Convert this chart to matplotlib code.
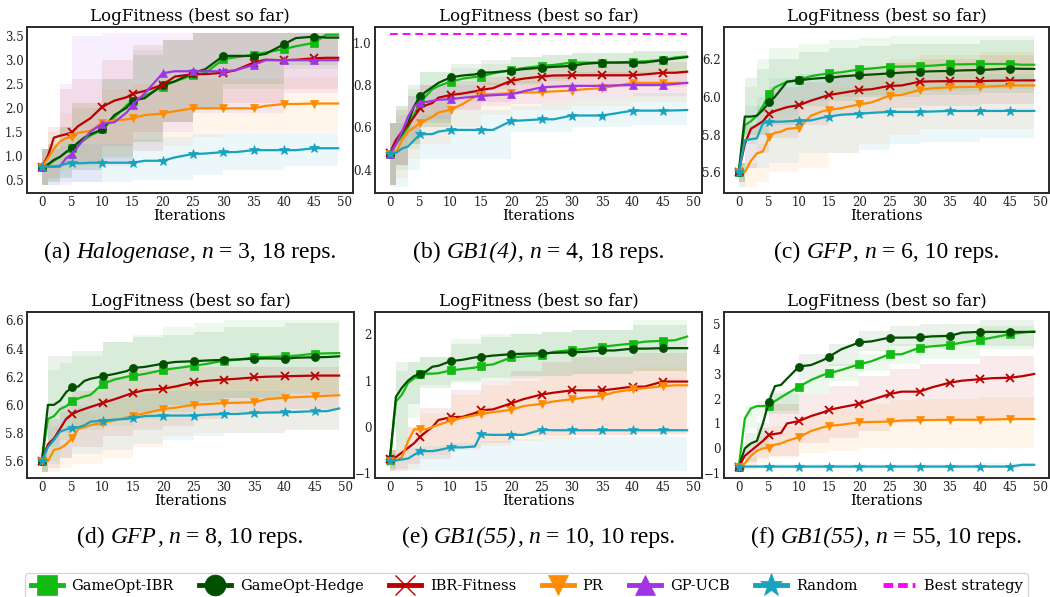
import numpy as np
import matplotlib
matplotlib.use("Agg")
import matplotlib.pyplot as plt
from matplotlib.lines import Line2D

plt.rcParams['font.family'] = ['DejaVu Serif']
plt.rcParams['mathtext.fontset'] = 'stix'

# ---------------- data ----------------
methods = ["GameOpt-IBR", "GameOpt-Hedge", "IBR-Fitness", "PR", "GP-UCB", "Random"]
best_label = "Best strategy"

# iteration grid for mean curves
X = [0, 1, 2, 3, 4, 5, 6, 7, 8, 10, 12, 14, 15, 17, 20, 22, 25, 27, 30, 32, 35, 37, 40, 42, 45, 47, 49]
# iteration grid for confidence bands
B = [0, 1, 3, 5, 10, 15, 20, 25, 30, 40, 49]

# Panel (a) Halogenase
a_ibr = [0.78, 0.82, 0.90, 0.98, 1.08, 1.17, 1.25, 1.33, 1.42, 1.55, 1.80, 2.05, 2.15, 2.25, 2.44, 2.55, 2.68, 2.72, 3.01, 3.05, 3.10, 3.15, 3.22, 3.28, 3.35, 3.52, 3.52]
a_hedge = [0.78, 0.82, 0.92, 0.98, 1.08, 1.17, 1.28, 1.38, 1.45, 1.55, 1.85, 2.00, 2.15, 2.20, 2.48, 2.55, 2.73, 2.80, 3.08, 3.08, 3.08, 3.12, 3.32, 3.45, 3.48, 3.46, 3.46]
a_ibrf = [0.78, 1.00, 1.38, 1.42, 1.45, 1.49, 1.62, 1.70, 1.78, 2.02, 2.15, 2.22, 2.29, 2.35, 2.48, 2.65, 2.70, 2.70, 2.73, 2.78, 2.94, 3.00, 2.99, 3.00, 3.03, 3.04, 3.04]
a_pr = [0.78, 0.95, 1.15, 1.30, 1.37, 1.40, 1.48, 1.50, 1.52, 1.69, 1.74, 1.76, 1.78, 1.85, 1.88, 1.93, 1.99, 1.99, 1.99, 1.99, 1.99, 2.04, 2.08, 2.08, 2.09, 2.09, 2.09]
a_gp = [0.78, 0.78, 0.78, 0.78, 0.95, 1.04, 1.20, 1.35, 1.50, 1.67, 1.70, 1.90, 2.06, 2.30, 2.72, 2.76, 2.76, 2.76, 2.76, 2.78, 2.89, 2.99, 2.99, 2.99, 2.99, 2.99, 2.99]
a_rand = [0.78, 0.78, 0.78, 0.80, 0.84, 0.85, 0.85, 0.85, 0.86, 0.86, 0.86, 0.86, 0.86, 0.90, 0.90, 0.97, 1.04, 1.05, 1.08, 1.08, 1.12, 1.12, 1.12, 1.12, 1.16, 1.16, 1.16]
a_lo = [[0.40, 0.45, 0.55, 0.70, 0.95, 1.30, 1.70, 2.00, 2.40, 2.80, 3.10],
        [0.40, 0.45, 0.55, 0.70, 0.90, 1.30, 1.70, 2.00, 2.50, 2.90, 3.10],
        [0.40, 0.55, 0.80, 0.85, 1.20, 1.50, 1.70, 2.00, 2.10, 2.40, 2.45],
        [0.40, 0.50, 0.70, 0.80, 1.00, 1.10, 1.20, 1.40, 1.45, 1.45, 1.55],
        [0.40, 0.40, 0.40, 0.45, 0.80, 1.10, 1.50, 1.90, 1.90, 2.30, 2.30],
        [0.40, 0.40, 0.45, 0.45, 0.45, 0.50, 0.50, 0.60, 0.70, 0.80, 0.85]]
a_hi = [[1.15, 1.25, 1.60, 2.00, 2.60, 3.20, 3.40, 3.55, 3.55, 3.55, 3.55],
        [1.15, 1.25, 1.60, 2.10, 2.60, 3.10, 3.40, 3.55, 3.55, 3.55, 3.55],
        [1.15, 1.60, 2.40, 2.60, 3.00, 3.30, 3.40, 3.55, 3.55, 3.55, 3.55],
        [1.15, 1.50, 1.90, 2.10, 2.40, 2.50, 2.60, 2.60, 2.60, 2.65, 2.65],
        [1.15, 1.15, 2.50, 3.50, 3.55, 3.55, 3.55, 3.55, 3.55, 3.55, 3.55],
        [1.15, 1.15, 1.20, 1.25, 1.25, 1.35, 1.40, 1.45, 1.45, 1.45, 1.45]]

# Panel (b) GB1(4)
b_ibr = [0.475, 0.52, 0.56, 0.60, 0.66, 0.72, 0.75, 0.78, 0.795, 0.816, 0.83, 0.838, 0.84, 0.855, 0.871, 0.88, 0.89, 0.895, 0.906, 0.906, 0.906, 0.906, 0.91, 0.912, 0.918, 0.93, 0.935]
b_hedge = [0.475, 0.53, 0.57, 0.62, 0.70, 0.748, 0.77, 0.79, 0.81, 0.836, 0.845, 0.85, 0.858, 0.86, 0.868, 0.875, 0.882, 0.886, 0.89, 0.90, 0.906, 0.906, 0.906, 0.906, 0.918, 0.925, 0.932]
b_ibrf = [0.48, 0.54, 0.58, 0.61, 0.65, 0.69, 0.705, 0.715, 0.74, 0.753, 0.76, 0.77, 0.777, 0.785, 0.82, 0.83, 0.84, 0.845, 0.846, 0.846, 0.846, 0.846, 0.846, 0.85, 0.858, 0.858, 0.863]
b_pr = [0.475, 0.48, 0.54, 0.58, 0.60, 0.62, 0.635, 0.65, 0.67, 0.683, 0.71, 0.745, 0.753, 0.757, 0.761, 0.764, 0.766, 0.77, 0.774, 0.78, 0.785, 0.795, 0.81, 0.81, 0.81, 0.81, 0.81]
b_gp = [0.475, 0.52, 0.58, 0.65, 0.70, 0.717, 0.72, 0.725, 0.73, 0.733, 0.74, 0.745, 0.748, 0.752, 0.756, 0.77, 0.789, 0.792, 0.796, 0.796, 0.796, 0.798, 0.80, 0.80, 0.80, 0.805, 0.81]
b_rand = [0.475, 0.48, 0.50, 0.51, 0.54, 0.567, 0.568, 0.568, 0.58, 0.588, 0.588, 0.588, 0.588, 0.588, 0.63, 0.633, 0.638, 0.638, 0.656, 0.656, 0.656, 0.665, 0.679, 0.679, 0.679, 0.68, 0.682]
b_best = 1.039
b_lo = [[0.33, 0.40, 0.50, 0.60, 0.72, 0.78, 0.80, 0.82, 0.84, 0.85, 0.88],
        [0.33, 0.42, 0.52, 0.62, 0.75, 0.80, 0.81, 0.83, 0.84, 0.85, 0.88],
        [0.33, 0.42, 0.52, 0.60, 0.68, 0.72, 0.76, 0.78, 0.79, 0.79, 0.80],
        [0.33, 0.36, 0.45, 0.52, 0.60, 0.66, 0.68, 0.68, 0.70, 0.72, 0.74],
        [0.33, 0.42, 0.55, 0.64, 0.68, 0.70, 0.71, 0.72, 0.74, 0.75, 0.76],
        [0.32, 0.32, 0.40, 0.45, 0.45, 0.45, 0.58, 0.58, 0.60, 0.61, 0.61]]
b_hi = [[0.62, 0.70, 0.78, 0.86, 0.88, 0.90, 0.93, 0.94, 0.95, 0.96, 0.98],
        [0.62, 0.70, 0.80, 0.86, 0.90, 0.92, 0.93, 0.94, 0.95, 0.96, 0.97],
        [0.62, 0.68, 0.75, 0.80, 0.82, 0.84, 0.88, 0.90, 0.90, 0.91, 0.92],
        [0.62, 0.62, 0.70, 0.72, 0.77, 0.82, 0.84, 0.85, 0.86, 0.87, 0.88],
        [0.62, 0.66, 0.75, 0.80, 0.80, 0.81, 0.82, 0.85, 0.86, 0.86, 0.87],
        [0.62, 0.62, 0.60, 0.66, 0.68, 0.68, 0.70, 0.72, 0.74, 0.76, 0.76]]

# Panel (c) GFP n=6
c_ibr = [5.60, 5.85, 5.87, 5.90, 5.95, 6.013, 6.05, 6.065, 6.08, 6.09, 6.11, 6.12, 6.124, 6.13, 6.145, 6.15, 6.16, 6.16, 6.163, 6.165, 6.172, 6.172, 6.174, 6.174, 6.174, 6.17, 6.17]
c_hedge = [5.60, 5.895, 5.895, 5.90, 5.93, 5.97, 6.00, 6.04, 6.08, 6.087, 6.095, 6.10, 6.10, 6.108, 6.115, 6.118, 6.124, 6.128, 6.133, 6.135, 6.137, 6.14, 6.142, 6.145, 6.15, 6.148, 6.148]
c_ibrf = [5.60, 5.75, 5.83, 5.85, 5.87, 5.909, 5.925, 5.935, 5.945, 5.956, 5.98, 6.00, 6.01, 6.02, 6.036, 6.04, 6.058, 6.06, 6.08, 6.082, 6.083, 6.083, 6.083, 6.085, 6.086, 6.087, 6.087]
c_pr = [5.60, 5.60, 5.66, 5.70, 5.71, 5.785, 5.81, 5.815, 5.83, 5.836, 5.90, 5.925, 5.93, 5.94, 5.96, 5.97, 6.006, 6.01, 6.036, 6.045, 6.05, 6.052, 6.053, 6.055, 6.06, 6.06, 6.06]
c_rand = [5.60, 5.77, 5.775, 5.78, 5.86, 5.868, 5.868, 5.868, 5.87, 5.873, 5.875, 5.89, 5.895, 5.905, 5.91, 5.915, 5.92, 5.92, 5.92, 5.922, 5.925, 5.925, 5.925, 5.925, 5.925, 5.925, 5.925]
c_lo = [[5.55, 5.75, 5.80, 5.90, 5.98, 6.00, 6.01, 6.02, 6.03, 6.04, 6.04],
        [5.55, 5.80, 5.80, 5.85, 5.95, 5.98, 6.00, 6.00, 6.01, 6.02, 6.02],
        [5.55, 5.62, 5.70, 5.78, 5.85, 5.90, 5.92, 5.94, 5.95, 5.96, 5.96],
        [5.52, 5.52, 5.55, 5.60, 5.62, 5.70, 5.75, 5.80, 5.83, 5.83, 5.83],
        [5.52, 5.62, 5.62, 5.65, 5.70, 5.70, 5.72, 5.75, 5.76, 5.78, 5.78]]
c_hi = [[5.65, 6.05, 6.20, 6.26, 6.28, 6.30, 6.31, 6.32, 6.32, 6.32, 6.32],
        [5.65, 6.10, 6.15, 6.20, 6.24, 6.26, 6.27, 6.28, 6.28, 6.30, 6.30],
        [5.65, 5.85, 5.95, 6.05, 6.08, 6.12, 6.16, 6.18, 6.20, 6.22, 6.22],
        [5.65, 5.65, 5.75, 5.90, 5.98, 6.05, 6.12, 6.20, 6.22, 6.24, 6.25],
        [5.65, 5.95, 6.00, 6.10, 6.12, 6.12, 6.12, 6.12, 6.12, 6.12, 6.12]]

# Panel (d) GFP n=8
d_ibr = [5.60, 5.90, 5.92, 5.97, 5.99, 6.03, 6.045, 6.06, 6.07, 6.148, 6.18, 6.20, 6.207, 6.22, 6.248, 6.26, 6.278, 6.29, 6.314, 6.32, 6.337, 6.34, 6.345, 6.35, 6.364, 6.366, 6.368]
d_hedge = [5.60, 6.00, 6.00, 6.03, 6.09, 6.125, 6.13, 6.17, 6.185, 6.203, 6.22, 6.24, 6.262, 6.27, 6.293, 6.305, 6.31, 6.315, 6.32, 6.322, 6.328, 6.33, 6.328, 6.335, 6.338, 6.34, 6.345]
d_ibrf = [5.60, 5.72, 5.76, 5.83, 5.90, 5.935, 5.955, 5.97, 5.985, 6.013, 6.04, 6.07, 6.085, 6.105, 6.115, 6.13, 6.16, 6.17, 6.18, 6.185, 6.195, 6.20, 6.203, 6.205, 6.208, 6.208, 6.208]
d_pr = [5.60, 5.60, 5.68, 5.69, 5.72, 5.765, 5.83, 5.84, 5.855, 5.872, 5.89, 5.91, 5.924, 5.94, 5.97, 5.98, 6.00, 6.005, 6.013, 6.015, 6.018, 6.04, 6.05, 6.055, 6.06, 6.065, 6.068]
d_rand = [5.60, 5.70, 5.75, 5.81, 5.825, 5.836, 5.84, 5.855, 5.88, 5.888, 5.895, 5.90, 5.907, 5.92, 5.924, 5.924, 5.924, 5.93, 5.935, 5.935, 5.943, 5.945, 5.947, 5.95, 5.955, 5.955, 5.974]
d_lo = [[5.52, 5.60, 5.75, 5.82, 5.85, 5.90, 5.95, 6.00, 6.05, 6.10, 6.12],
        [5.52, 5.70, 5.80, 5.85, 5.90, 5.95, 6.00, 6.03, 6.05, 6.08, 6.10],
        [5.52, 5.55, 5.62, 5.70, 5.78, 5.82, 5.85, 5.90, 5.95, 5.97, 5.97],
        [5.52, 5.52, 5.55, 5.58, 5.62, 5.70, 5.78, 5.80, 5.80, 5.82, 5.82],
        [5.52, 5.58, 5.62, 5.65, 5.68, 5.72, 5.75, 5.78, 5.80, 5.82, 5.84]]
d_hi = [[5.70, 6.25, 6.30, 6.35, 6.45, 6.50, 6.55, 6.58, 6.60, 6.60, 6.60],
        [5.70, 6.35, 6.35, 6.38, 6.45, 6.48, 6.50, 6.52, 6.55, 6.58, 6.58],
        [5.70, 5.90, 6.00, 6.10, 6.20, 6.25, 6.27, 6.27, 6.27, 6.27, 6.27],
        [5.70, 5.70, 5.80, 5.95, 6.05, 6.12, 6.15, 6.18, 6.18, 6.20, 6.22],
        [5.70, 5.85, 5.95, 6.00, 6.05, 6.08, 6.10, 6.10, 6.10, 6.10, 6.12]]

# Panel (e) GB1(55) n=10
e_ibr = [-0.72, 0.55, 0.70, 0.95, 1.05, 1.14, 1.15, 1.15, 1.16, 1.22, 1.25, 1.28, 1.32, 1.35, 1.50, 1.52, 1.55, 1.62, 1.66, 1.68, 1.73, 1.76, 1.80, 1.84, 1.86, 1.87, 1.95]
e_hedge = [-0.68, 0.65, 0.85, 1.00, 1.10, 1.14, 1.20, 1.30, 1.32, 1.42, 1.45, 1.50, 1.51, 1.54, 1.57, 1.58, 1.59, 1.60, 1.61, 1.62, 1.65, 1.65, 1.69, 1.69, 1.70, 1.70, 1.70]
e_ibrf = [-0.70, -0.65, -0.55, -0.45, -0.35, -0.21, -0.10, 0.00, 0.15, 0.21, 0.22, 0.30, 0.36, 0.38, 0.51, 0.60, 0.70, 0.74, 0.79, 0.79, 0.79, 0.82, 0.87, 0.87, 0.98, 0.98, 0.98]
e_pr = [-0.73, -0.72, -0.65, -0.30, -0.05, -0.05, -0.05, 0.00, 0.05, 0.13, 0.20, 0.25, 0.28, 0.32, 0.37, 0.45, 0.50, 0.55, 0.60, 0.63, 0.67, 0.75, 0.81, 0.84, 0.88, 0.90, 0.90]
e_rand = [-0.73, -0.72, -0.70, -0.68, -0.60, -0.52, -0.52, -0.52, -0.50, -0.44, -0.44, -0.42, -0.16, -0.17, -0.17, -0.17, -0.06, -0.07, -0.07, -0.07, -0.07, -0.07, -0.07, -0.07, -0.07, -0.07, -0.07]
e_lo = [[-0.90, -0.50, 0.20, 0.90, 0.95, 1.00, 1.05, 1.10, 1.15, 1.20, 1.30],
        [-0.90, -0.30, 0.50, 0.85, 1.00, 1.05, 1.10, 1.10, 1.15, 1.20, 1.20],
        [-0.95, -0.90, -0.80, -0.70, -0.45, -0.35, -0.20, -0.20, -0.18, -0.15, -0.15],
        [-0.95, -0.95, -0.90, -0.60, -0.50, -0.40, -0.30, -0.25, -0.20, -0.15, -0.15],
        [-0.95, -0.95, -0.95, -0.95, -0.95, -0.95, -0.95, -0.95, -0.95, -0.95, -0.95]]
e_hi = [[-0.50, 1.20, 1.40, 1.50, 1.90, 2.00, 2.00, 2.05, 2.10, 2.30, 2.30],
        [-0.50, 1.40, 1.40, 1.50, 1.80, 1.95, 2.00, 2.05, 2.10, 2.20, 2.20],
        [-0.50, -0.30, 0.00, 0.40, 0.80, 1.00, 1.20, 1.40, 1.50, 1.60, 1.65],
        [-0.50, -0.50, 0.00, 0.30, 0.70, 0.90, 1.00, 1.10, 1.20, 1.30, 1.40],
        [-0.50, -0.50, -0.45, -0.40, -0.35, -0.30, -0.25, -0.22, -0.22, -0.22, -0.22]]

# Panel (f) GB1(55) n=55
f_ibr = [-0.75, 1.20, 1.60, 1.70, 1.70, 1.72, 1.90, 2.05, 2.20, 2.48, 2.75, 2.95, 3.02, 3.15, 3.38, 3.50, 3.78, 3.78, 4.05, 4.10, 4.16, 4.25, 4.36, 4.45, 4.59, 4.65, 4.70]
f_hedge = [-0.75, 0.00, 0.20, 0.30, 1.00, 1.88, 2.50, 2.55, 2.80, 3.29, 3.35, 3.55, 3.69, 3.98, 4.26, 4.30, 4.45, 4.45, 4.46, 4.50, 4.52, 4.65, 4.68, 4.68, 4.68, 4.68, 4.68]
f_ibrf = [-0.75, -0.30, -0.10, 0.10, 0.30, 0.54, 0.58, 0.62, 1.00, 1.10, 1.30, 1.45, 1.55, 1.65, 1.79, 1.95, 2.18, 2.28, 2.28, 2.45, 2.64, 2.72, 2.78, 2.82, 2.84, 2.90, 2.99]
f_pr = [-0.75, -0.60, -0.30, -0.10, 0.00, 0.03, 0.15, 0.20, 0.30, 0.45, 0.70, 0.85, 0.90, 0.95, 1.05, 1.06, 1.08, 1.12, 1.14, 1.14, 1.15, 1.15, 1.15, 1.16, 1.18, 1.18, 1.18]
f_rand = [-0.73, -0.73, -0.73, -0.73, -0.73, -0.73, -0.73, -0.73, -0.73, -0.73, -0.73, -0.73, -0.73, -0.73, -0.73, -0.73, -0.73, -0.73, -0.73, -0.73, -0.73, -0.73, -0.73, -0.73, -0.73, -0.66, -0.66]
f_lo = [[-0.85, 0.80, 1.30, 1.50, 2.20, 2.70, 3.10, 3.40, 3.60, 4.00, 4.10],
        [-0.85, -0.50, 0.00, 1.40, 2.80, 3.30, 3.90, 4.10, 4.10, 4.10, 4.10],
        [-0.85, -0.60, -0.40, -0.30, 0.20, 0.40, 0.70, 1.00, 1.10, 1.20, 1.20],
        [-0.85, -0.85, -0.60, -0.40, -0.20, -0.10, 0.00, 0.00, 0.00, 0.00, 0.00],
        [-0.82, -0.82, -0.82, -0.82, -0.82, -0.82, -0.82, -0.82, -0.82, -0.80, -0.80]]
f_hi = [[-0.60, 1.70, 1.90, 2.20, 2.80, 3.40, 3.80, 4.20, 4.60, 4.90, 5.15],
        [-0.60, 0.60, 1.00, 2.30, 3.80, 4.20, 4.70, 4.90, 5.00, 5.15, 5.15],
        [-0.60, 0.20, 0.80, 1.80, 2.20, 2.50, 2.90, 3.20, 3.40, 3.70, 3.85],
        [-0.60, -0.40, 0.50, 0.90, 1.30, 1.60, 1.80, 1.95, 2.00, 2.05, 2.05],
        [-0.62, -0.62, -0.62, -0.62, -0.62, -0.62, -0.62, -0.62, -0.62, -0.58, -0.58]]

# captions: segments between * are italic
captions = ["(a) *Halogenase*, *n* = 3, 18 reps.",
            "(b) *GB1(4)*, *n* = 4, 18 reps.",
            "(c) *GFP*, *n* = 6, 10 reps.",
            "(d) *GFP*, *n* = 8, 10 reps.",
            "(e) *GB1(55)*, *n* = 10, 10 reps.",
            "(f) *GB1(55)*, *n* = 55, 10 reps."]
title = "LogFitness (best so far)"
xlabel = "Iterations"
xticks = [0, 5, 10, 15, 20, 25, 30, 35, 40, 45, 50]

yticks = [[0.5, 1.0, 1.5, 2.0, 2.5, 3.0, 3.5],
          [0.4, 0.6, 0.8, 1.0],
          [5.6, 5.8, 6.0, 6.2],
          [5.6, 5.8, 6.0, 6.2, 6.4, 6.6],
          [-1, 0, 1, 2],
          [-1, 0, 1, 2, 3, 4, 5]]
ylims = [(0.23, 3.68), (0.29, 1.074), (5.49, 6.37), (5.48, 6.66), (-1.10, 2.48), (-1.19, 5.48)]

panels = [
    (["GameOpt-IBR", "GameOpt-Hedge", "IBR-Fitness", "PR", "GP-UCB", "Random"],
     [a_ibr, a_hedge, a_ibrf, a_pr, a_gp, a_rand], a_lo, a_hi, None),
    (["GameOpt-IBR", "GameOpt-Hedge", "IBR-Fitness", "PR", "GP-UCB", "Random"],
     [b_ibr, b_hedge, b_ibrf, b_pr, b_gp, b_rand], b_lo, b_hi, b_best),
    (["GameOpt-IBR", "GameOpt-Hedge", "IBR-Fitness", "PR", "Random"],
     [c_ibr, c_hedge, c_ibrf, c_pr, c_rand], c_lo, c_hi, None),
    (["GameOpt-IBR", "GameOpt-Hedge", "IBR-Fitness", "PR", "Random"],
     [d_ibr, d_hedge, d_ibrf, d_pr, d_rand], d_lo, d_hi, None),
    (["GameOpt-IBR", "GameOpt-Hedge", "IBR-Fitness", "PR", "Random"],
     [e_ibr, e_hedge, e_ibrf, e_pr, e_rand], e_lo, e_hi, None),
    (["GameOpt-IBR", "GameOpt-Hedge", "IBR-Fitness", "PR", "Random"],
     [f_ibr, f_hedge, f_ibrf, f_pr, f_rand], f_lo, f_hi, None),
]

# ---------------- styles ----------------
colors = {"GameOpt-IBR": "#12bb12", "GameOpt-Hedge": "#005000", "IBR-Fitness": "#bb0000",
          "PR": "#ff8c00", "GP-UCB": "#a035e6", "Random": "#17a2bf"}
markers = {"GameOpt-IBR": "s", "GameOpt-Hedge": "o", "IBR-Fitness": "x",
           "PR": "v", "GP-UCB": "^", "Random": "*"}
best_color = "#ff00ff"

W, H = 1050, 597
fig = plt.figure(figsize=(W / 100, H / 100), dpi=100)

# axes boxes in pixels (left, top, right, bottom)
boxes = [(27, 27, 353, 193), (375, 27, 702, 193), (724, 27, 1049, 193),
         (27, 312, 354, 478), (375, 312, 702, 478), (724, 312, 1049, 478)]
cap_base = [258, 258, 258, 543, 543, 543]
CAP_FS = 17
CAP_FAMILY = ['Liberation Serif']

mark_idx = [i for i, x in enumerate(X) if x % 5 == 0 and x <= 45]

for k, (names, series, lo, hi, best) in enumerate(panels):
    l, t, r, b = boxes[k]
    ax = fig.add_axes([l / W, 1 - b / H, (r - l) / W, (b - t) / H])
    for name, lo_i, hi_i in zip(names, lo, hi):
        ax.fill_between(B, lo_i, hi_i, step='post', color=colors[name], alpha=0.08, lw=0)
    for name, y in zip(names, series):
        mk = markers[name]
        ms = 7.5 if mk == '*' else 5.8
        ax.plot(X, y, color=colors[name], lw=1.6, marker=mk, markevery=mark_idx,
                markersize=ms, markeredgewidth=1.3 if mk == 'x' else 0.5,
                markeredgecolor=colors[name])
    if best is not None:
        ax.plot([0, 49], [best, best], color=best_color, lw=1.4, ls=(0, (4, 2.5)))
    ax.set_xlim(-2.45, 51.45)
    ax.set_ylim(*ylims[k])
    ax.set_xticks(xticks)
    ax.set_yticks(yticks[k])
    if k >= 4:
        ax.set_yticklabels([str(v).replace('-', '\u2212') for v in yticks[k]])
    ax.tick_params(length=0, pad=2.5, labelsize=8.5, colors='#222222')
    for s in ax.spines.values():
        s.set_linewidth(1.4)
        s.set_color('#2a2a2a')
    ax.set_title(title, fontsize=12, pad=4)
    ax.set_xlabel(xlabel, fontsize=10.5, labelpad=0)

# ---- captions with mixed upright / italic runs ----
fig.canvas.draw()
renderer = fig.canvas.get_renderer()


def text_width(s, style):
    tt = fig.text(0, 0, s, fontsize=CAP_FS, family=CAP_FAMILY, style=style)
    wdt = tt.get_window_extent(renderer).width
    tt.remove()
    return wdt


space_w = text_width("a a", 'normal') - text_width("aa", 'normal')

for k, cap in enumerate(captions):
    l, t, r, b = boxes[k]
    segs = cap.split('*')
    runs = []
    total = 0.0
    for i, s in enumerate(segs):
        if not s:
            continue
        style = 'italic' if i % 2 == 1 else 'normal'
        lead = len(s) - len(s.lstrip(' '))
        trail = len(s) - len(s.rstrip(' '))
        core = s.strip(' ')
        cw = text_width(core, style) if core else 0.0
        runs.append((total + lead * space_w, core, style))
        total += lead * space_w + cw + trail * space_w
    x0 = (l + r) / 2 - total / 2
    for off, core, style in runs:
        if core:
            fig.text((x0 + off) / W, 1 - cap_base[k] / H, core, fontsize=CAP_FS,
                     family=CAP_FAMILY, style=style, ha='left', va='baseline')

handles = []
for name in methods:
    mk = markers[name]
    handles.append(Line2D([], [], color=colors[name], lw=3.5, marker=mk,
                          markersize=17 if mk == '*' else 15,
                          markeredgewidth=1.0 if mk == 'x' else 0.5,
                          markeredgecolor=colors[name]))
handles.append(Line2D([], [], color=best_color, lw=3.5, ls=(0, (2, 1))))
fig.legend(handles, methods + [best_label], loc='upper center',
           bbox_to_anchor=(526.5 / W, 1 - 573 / H), ncol=7, fontsize=10.5,
           handlelength=2.2, handletextpad=0.6, columnspacing=1.75,
           borderaxespad=0, frameon=True, fancybox=True, edgecolor='#cccccc')

fig.savefig("out.png", dpi=100)
